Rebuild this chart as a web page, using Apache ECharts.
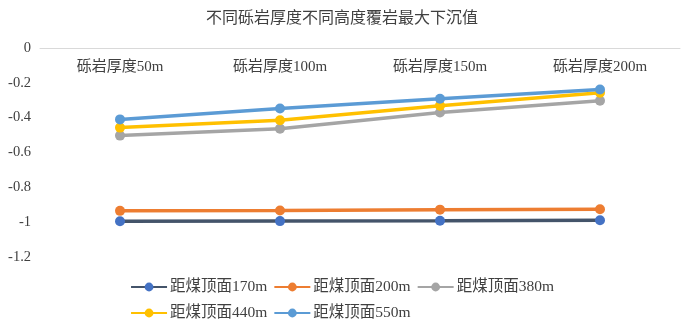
<!DOCTYPE html>
<html>
<head>
<meta charset="utf-8">
<script src="https://cdn.jsdelivr.net/npm/echarts@6/dist/echarts.min.js"></script>
<style>
  html, body { margin: 0; padding: 0; background: #fff; }
  #chart { width: 684px; height: 333px; }
</style>
</head>
<body>
<div id="chart"></div>
<script>
// 類別與數據
const categories = ['砾岩厚度50m', '砾岩厚度100m', '砾岩厚度150m', '砾岩厚度200m']
const yTicks = [0, -0.2, -0.4, -0.6, -0.8, -1, -1.2]
const d170 = [-0.995, -0.994, -0.992, -0.989]
const d200 = [-0.935, -0.933, -0.928, -0.926]
const d380 = [-0.503, -0.463, -0.370, -0.303]
const d440 = [-0.457, -0.415, -0.331, -0.257]
const d550 = [-0.410, -0.347, -0.291, -0.238]

const seriesDefs = [
  { name: '距煤顶面170m', data: d170, line: '#44546A', dot: '#4472C4' },
  { name: '距煤顶面200m', data: d200, line: '#ED7D31', dot: '#ED7D31' },
  { name: '距煤顶面380m', data: d380, line: '#A5A5A5', dot: '#A5A5A5' },
  { name: '距煤顶面440m', data: d440, line: '#FFC000', dot: '#FFC000' },
  { name: '距煤顶面550m', data: d550, line: '#5B9BD5', dot: '#5B9BD5' }
]

const font = '"Times New Roman", "Liberation Serif", "Noto Sans CJK SC", serif'

const chart = echarts.init(document.getElementById('chart'))
chart.setOption({
  animation: false,
  textStyle: { fontFamily: font },
  title: {
    text: '不同砾岩厚度不同高度覆岩最大下沉值',
    left: 'center',
    top: 6,
    textStyle: { fontFamily: font, fontSize: 16, fontWeight: 'normal', color: '#404040' }
  },
  grid: { left: 40, right: 4, top: 48, bottom: 76 },
  legend: {
    left: 'center',
    top: 272,
    width: 440,
    itemWidth: 36,
    itemHeight: 11,
    itemGap: 6,
    textStyle: { fontFamily: font, fontSize: 15.5, lineHeight: 20, color: '#404040', padding: [0, 0, 0, -2] },
    data: seriesDefs.map(s => s.name)
  },
  xAxis: {
    type: 'category',
    position: 'top',
    data: categories,
    axisLine: { onZero: false, lineStyle: { color: '#D9D9D9', width: 1 } },
    axisTick: { show: false },
    axisLabel: { inside: true, margin: 12, fontFamily: font, fontSize: 15, color: '#404040' }
  },
  yAxis: {
    type: 'value',
    min: -1.2,
    max: 0,
    interval: 0.2,
    splitLine: { show: false },
    axisLine: { show: false },
    axisTick: { show: false },
    axisLabel: {
      fontFamily: font,
      fontSize: 14.5,
      color: '#404040',
      margin: 9,
      formatter: v => {
        const t = yTicks.find(k => Math.abs(k - v) < 1e-6)
        return t === undefined ? '' : String(t)
      }
    }
  },
  series: seriesDefs.map(s => ({
    name: s.name,
    type: 'line',
    data: s.data,
    symbol: 'circle',
    symbolSize: 10,
    lineStyle: { color: s.line, width: 3.5 },
    itemStyle: { color: s.dot },
    emphasis: { disabled: true }
  }))
})
</script>
</body>
</html>
